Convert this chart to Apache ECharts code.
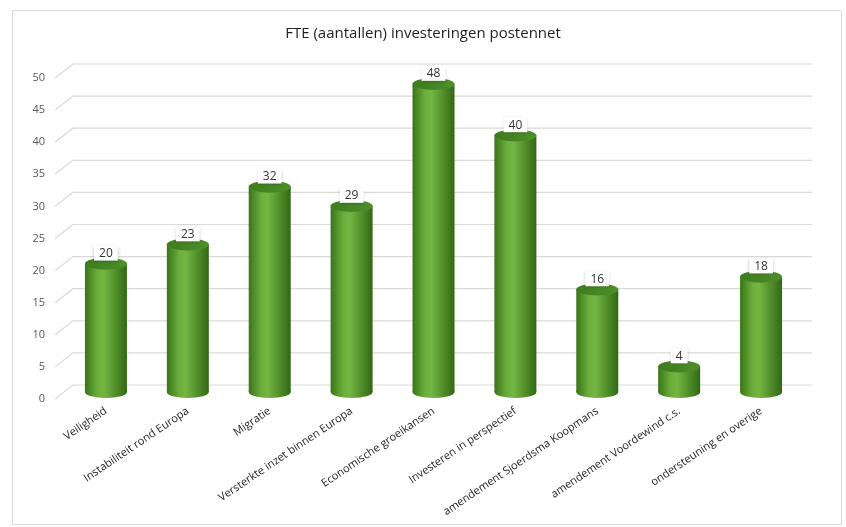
<!DOCTYPE html>
<html lang="nl">
<head>
    <meta charset="UTF-8">
    <script src="https://cdn.jsdelivr.net/npm/echarts@6/dist/echarts.min.js"></script>
    <title>FTE investeringen postennet</title>
    <style>
        html, body { margin: 0; padding: 0; background: #fff; }
        #main { width: 846px; height: 527px; }
    </style>
</head>
<body>
    <div id="main"></div>
    <script>
        // gegevens uit de grafiek
        var categories = ['Veiligheid', 'Instabiliteit rond Europa', 'Migratie', 'Versterkte inzet binnen Europa',
            'Economische groeikansen', 'Investeren in perspectief', 'amendement Sjoerdsma Koopmans',
            'amendement Voordewind c.s.', 'ondersteuning en overige'];
        var fteValues = [20, 23, 32, 29, 48, 40, 16, 4, 18];
        var yTicks = [0, 5, 10, 15, 20, 25, 30, 35, 40, 45, 50];

        var myChart = echarts.init(document.getElementById('main'));

        var bodyColor = new echarts.graphic.LinearGradient(0, 0, 1, 0, [
            { offset: 0, color: '#3a7519' },
            { offset: 0.3, color: '#6cae3c' },
            { offset: 0.45, color: '#74b642' },
            { offset: 1, color: '#316814' }
        ]);
        var topColor = new echarts.graphic.LinearGradient(0, 0, 1, 0, [
            { offset: 0, color: '#3e7c1e' },
            { offset: 1, color: '#4d8f2a' }
        ]);

        var option = {
            backgroundColor: '#fff',
            animation: false,
            title: {
                text: 'FTE (aantallen) investeringen postennet',
                left: 'center',
                top: 21,
                textStyle: { fontFamily: 'Open Sans', fontSize: 15, fontWeight: 'normal', color: '#1f1f1f' }
            },
            graphic: [{
                type: 'rect',
                shape: { x: 12.5, y: 10.5, width: 829, height: 514 },
                style: { fill: 'none', stroke: '#d9d9d9', lineWidth: 1 },
                silent: true
            }],
            grid: { left: 65, right: 44, top: 71, bottom: 135 },
            xAxis: {
                type: 'category',
                data: categories,
                axisLine: { show: false },
                axisTick: { show: false },
                axisLabel: {
                    rotate: 34,
                    interval: 0,
                    margin: 18,
                    fontFamily: 'Open Sans',
                    fontSize: 11,
                    color: '#262626'
                }
            },
            yAxis: {
                type: 'value',
                min: 0,
                max: 50,
                interval: 5,
                splitLine: { show: false },
                axisLine: { show: false },
                axisTick: { show: false },
                axisLabel: {
                    margin: 20,
                    verticalAlign: 'top',
                    lineHeight: 14,
                    fontFamily: 'Open Sans',
                    fontSize: 11,
                    color: '#595959'
                }
            },
            series: [
                {
                    // rasterlijnen in perspectief
                    type: 'custom',
                    silent: true,
                    z: 1,
                    data: yTicks,
                    renderItem: function (params, api) {
                        var p = api.coord([0, api.value(0)]);
                        var cs = params.coordSys;
                        return {
                            type: 'polyline',
                            shape: {
                                points: [
                                    [cs.x - 10, p[1] + 7],
                                    [cs.x + 8, p[1] - 7],
                                    [cs.x + cs.width + 10, p[1] - 7]
                                ]
                            },
                            style: { fill: 'none', stroke: '#d9d9d9', lineWidth: 1.2 }
                        };
                    },
                    encode: { y: 0 }
                },
                {
                    type: 'bar',
                    data: fteValues,
                    barWidth: 42,
                    z: 3,
                    itemStyle: { color: bodyColor }
                },
                {
                    // onderkant cilinder
                    type: 'pictorialBar',
                    data: fteValues,
                    symbol: 'circle',
                    symbolSize: [42, 12],
                    symbolPosition: 'start',
                    symbolOffset: [0, '50%'],
                    z: 2,
                    itemStyle: { color: bodyColor }
                },
                {
                    // bovenkant cilinder
                    type: 'pictorialBar',
                    data: fteValues,
                    symbol: 'circle',
                    symbolSize: [42, 12],
                    symbolPosition: 'end',
                    symbolOffset: [0, '-50%'],
                    z: 4,
                    itemStyle: { color: topColor, borderColor: '#7cb552', borderWidth: 1 },
                    label: {
                        show: true,
                        position: 'top',
                        distance: -3,
                        fontFamily: 'Open Sans',
                        fontSize: 12,
                        color: '#333',
                        backgroundColor: '#fff',
                        padding: [2, 5, 1, 5],
                        shadowColor: 'rgba(0,0,0,0.25)',
                        shadowBlur: 3,
                        shadowOffsetY: 1
                    }
                }
            ]
        };

        myChart.setOption(option);
    </script>
</body>
</html>
